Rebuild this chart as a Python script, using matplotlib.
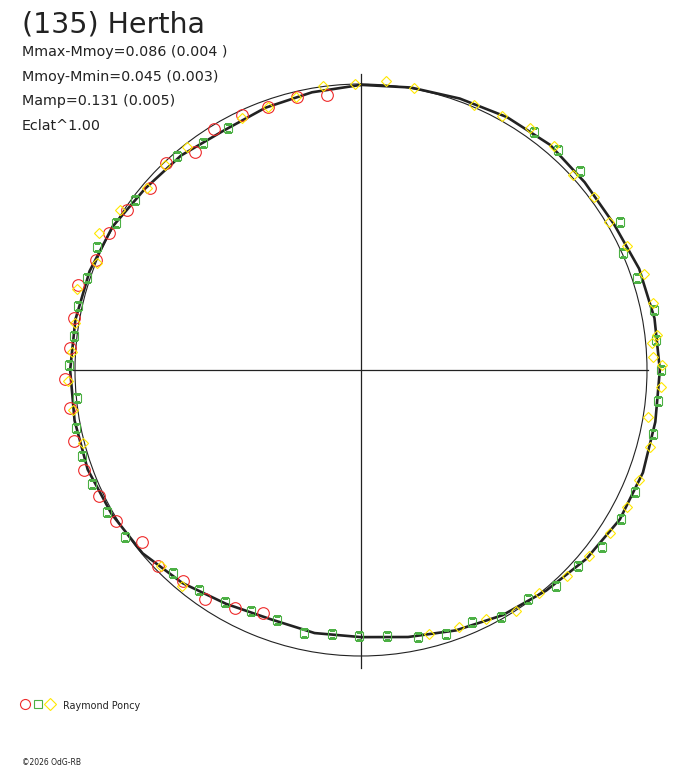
import numpy as np
import matplotlib
matplotlib.use("Agg")
import matplotlib.pyplot as plt
from matplotlib.lines import Line2D

# === Data: phase angle (deg, clockwise from top) and relative radius ===
curve_phase = [0, 10, 20, 30, 40, 50, 60, 70, 80, 90, 100, 110, 120, 130, 140, 150,
               160, 170, 180, 190, 200, 210, 220, 230, 240, 250, 260, 270, 280, 290,
               300, 310, 320, 330, 340, 350, 360]
curve_r = [0.997, 1.003, 1.010, 1.021, 1.028, 1.021, 1.021, 1.035, 1.042, 1.045,
           1.045, 1.049, 1.045, 1.028, 1.007, 0.990, 0.969, 0.948, 0.934, 0.934,
           0.927, 0.944, 0.972, 0.997, 1.007, 1.017, 1.017, 1.017, 1.014, 1.010,
           1.003, 0.986, 0.979, 0.965, 0.976, 0.986, 0.997]

yellow_phase = [346.6, 352.4, 358.8, 4.9, 10.6, 23.1, 29.0, 34.9, 40.7, 47.4, 53.4,
                59.2, 65.0, 71.3, 77.1, 83.3, 84.7, 87.5, 89.0, 93.2, 99.3, 104.9,
                111.6, 117.2, 123.2, 129.2, 135.0, 141.4, 147.3, 153.3, 159.1, 165.6,
                219.6, 225.6, 255.3, 262.1, 267.9, 273.6, 279.3, 285.9, 292.1, 297.6,
                303.6, 310.4, 316.3, 322.0, 334.7, 340.5]
yellow_r = [0.981, 1.002, 1.000, 1.014, 1.003, 1.007, 1.016, 1.032, 1.034, 1.007, 1.014,
            1.010, 1.026, 1.045, 1.048, 1.042, 1.021, 1.022, 1.052, 1.051, 1.017, 1.046,
            1.045, 1.046, 1.041, 1.029, 1.018, 0.997, 1.002, 0.974, 0.962, 0.953,
            0.981, 0.979, 1.005, 1.017, 1.025, 1.013, 1.013, 1.032, 0.996, 1.034,
            1.011, 0.982, 0.992, 0.989, 0.974, 0.975]

green_phase = [36.0, 41.8, 47.7, 60.3, 65.9, 71.6, 78.4, 84.2, 90.0, 96.0, 102.4,
               114.0, 119.8, 126.3, 132.1, 137.9, 143.9, 150.5, 156.2, 162.2, 168.0,
               174.4, 180.4, 186.3, 192.2, 198.6, 204.5, 210.4, 216.4, 222.8, 234.7,
               240.8, 247.0, 252.9, 258.5, 264.4, 271.0, 276.8, 282.7, 288.6, 295.0,
               301.0, 306.9, 319.3, 325.2, 331.2]
green_r = [1.029, 1.033, 1.035, 1.043, 1.003, 1.017, 1.046, 1.037, 1.049, 1.044, 1.045,
           1.049, 1.048, 1.045, 1.022, 1.017, 0.991, 0.993, 0.963, 0.969, 0.955,
           0.935, 0.930, 0.929, 0.941, 0.922, 0.926, 0.940, 0.955, 0.967, 1.011,
           1.017, 1.021, 1.021, 1.017, 0.998, 1.021, 1.011, 1.015, 1.011, 1.019,
           0.999, 0.989, 0.987, 0.967, 0.965]

red_phase = [346.8, 353.0, 340.5, 335.0, 328.6, 322.7, 316.7, 310.8, 304.4, 298.5,
             292.5, 286.7, 280.3, 274.3, 268.3, 262.6, 256.1, 250.1, 244.3, 238.4,
             231.9, 226.0, 220.2, 214.3, 207.9, 202.0]
red_r = [0.980, 0.969, 0.975, 0.984, 0.987, 0.958, 0.994, 0.974, 0.991, 1.003,
         1.003, 1.033, 1.020, 1.020, 1.035, 1.026, 1.034, 1.030, 1.016, 1.006,
         0.974, 0.986, 0.965, 0.969, 0.942, 0.916]

title = "(135) Hertha"
stats = ["Mmax-Mmoy=0.086 (0.004 )",
         "Mmoy-Mmin=0.045 (0.003)",
         "Mamp=0.131 (0.005)",
         "Eclat^1.00"]
observer = "Raymond Poncy"
credit = "\u00a92026 OdG-RB"

RED = "#ee2a2a"
GREEN = "#4cb044"
YELLOW = "#ffe800"
INK = "#222222"

# === Figure ===
W, H = 688, 768
fig = plt.figure(figsize=(W / 100, H / 100), dpi=100)

cx, cy, R = 361, 370, 286
rmax = 1.1
half = rmax * R
ax = fig.add_axes([(cx - half) / W, (H - cy - half) / H, 2 * half / W, 2 * half / H],
                  projection="polar")
ax.set_theta_zero_location("N")
ax.set_theta_direction(-1)
ax.set_rlim(0, rmax)
ax.set_rgrids([1.0], labels=[""])
ax.set_thetagrids([], labels=[])
ax.spines["polar"].set_visible(False)
ax.patch.set_alpha(0)
ax.xaxis.grid(False)
ax.yaxis.grid(True, color=INK, lw=0.8)

# axis lines
ax.plot(np.radians([0, 180]), [1.035, 1.042], color=INK, lw=0.9, zorder=1)
ax.plot(np.radians([90, 270]), [1.003, 1.007], color=INK, lw=0.9, zorder=1)

# light curve
ax.plot(np.radians(curve_phase), curve_r, color=INK, lw=1.9, zorder=2)

# sessions
ax.plot(np.radians(red_phase), red_r, "o", ms=8.4, mfc="none", mec=RED, mew=0.8, zorder=3)
ax.plot(np.radians(green_phase), green_r, "s", ms=5.8, mfc="none", mec=GREEN, mew=0.8, zorder=4)
ax.plot(np.radians(yellow_phase), yellow_r, "D", ms=5.6, mfc="none", mec=YELLOW, mew=0.8, zorder=5)

# === Texts ===
fig.text(22 / W, 1 - 32.5 / H, title, fontsize=20.5, color=INK, va="baseline",
         family="DejaVu Sans")
for i, s in enumerate(stats):
    fig.text(22 / W, 1 - (56 + 24.7 * i) / H, s, fontsize=10.3, color=INK,
             va="baseline", family="DejaVu Sans")

# legend
for x, m, ms, c in [(25.3, "o", 7.2, RED), (38, "s", 5.4, GREEN), (50, "D", 6.0, YELLOW)]:
    fig.add_artist(Line2D([x / W], [1 - 704 / H], marker=m, ms=ms, mfc="none", mec=c,
                          mew=0.8, ls="none", transform=fig.transFigure))
fig.text(63 / W, 1 - 709 / H, observer, fontsize=6.9, color=INK, va="baseline",
         family="DejaVu Sans")
fig.text(22 / W, 1 - 765 / H, credit, fontsize=5.5, color=INK, va="baseline",
         family="DejaVu Sans")

fig.savefig("out.png", dpi=100)
